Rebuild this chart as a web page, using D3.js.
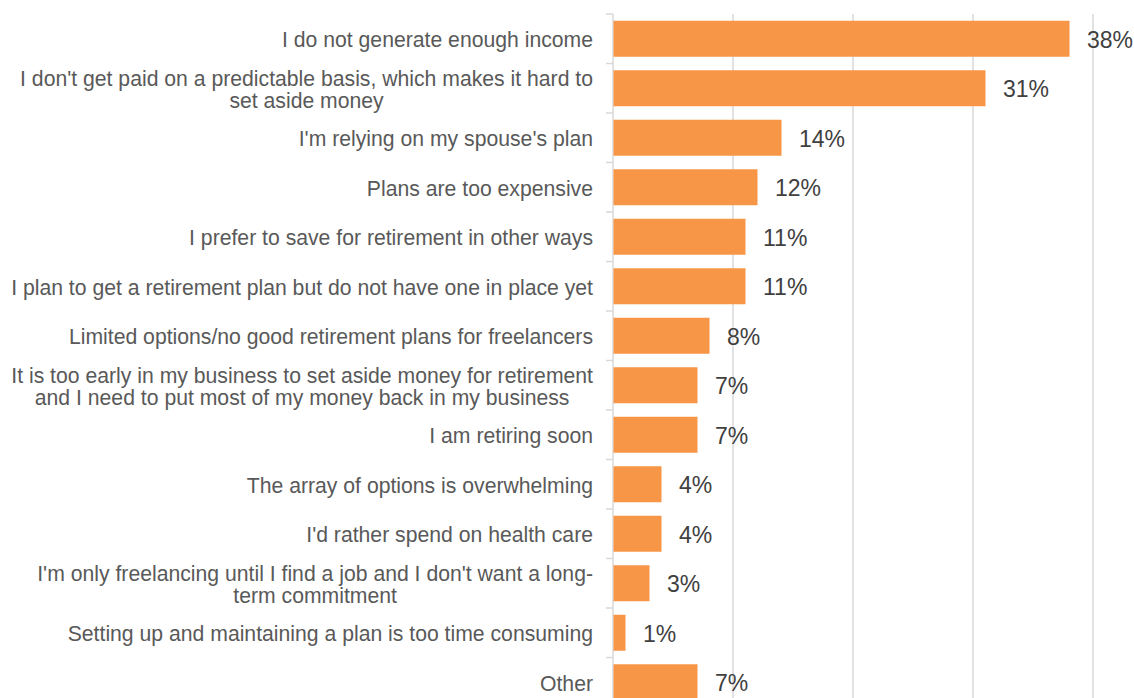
<!DOCTYPE html>
<html>
<head>
<meta charset="utf-8">
<script src="https://cdn.jsdelivr.net/npm/d3@7/dist/d3.min.js"></script>
<style>
  html, body { margin: 0; padding: 0; background: #ffffff; }
  svg { display: block; }
</style>
</head>
<body>
<svg id="chart" width="1134" height="698"></svg>
<script>
// Reasons freelancers give for not having a retirement plan (% of respondents)
const categories = [
  "I do not generate enough income",
  "I don't get paid on a predictable basis, which makes it hard to\nset aside money",
  "I'm relying on my spouse's plan",
  "Plans are too expensive",
  "I prefer to save for retirement in other ways",
  "I plan to get a retirement plan but do not have one in place yet",
  "Limited options/no good retirement plans for freelancers",
  "It is too early in my business to set aside money for retirement\nand I need to put most of my money back in my business",
  "I am retiring soon",
  "The array of options is overwhelming",
  "I'd rather spend on health care",
  "I'm only freelancing until I find a job and I don't want a long-\nterm commitment",
  "Setting up and maintaining a plan is too time consuming",
  "Other"
];
const values = [38, 31, 14, 12, 11, 11, 8, 7, 7, 4, 4, 3, 1, 7];
const gridTicks = [10, 20, 30, 40];

const svg = d3.select("#chart");
const fontFamily = "'Liberation Sans', Arial, sans-serif";
const labelColor = "#595959";
const valueColor = "#404040";
const gridColor = "#d9d9d9";
const barColor = "#f79646";

const x0 = 613;
const x = d3.scaleLinear().domain([0, 40]).range([x0, 1093]);
const y = d3.scaleBand()
  .domain(categories)
  .range([14, 14 + 49.5 * categories.length])
  .paddingInner(0.2727)
  .paddingOuter(0.13635);

// vertical gridlines
svg.append("g")
  .selectAll("line")
  .data(gridTicks)
  .join("line")
  .attr("x1", d => x(d)).attr("x2", d => x(d))
  .attr("y1", 14).attr("y2", 698)
  .attr("stroke", gridColor)
  .attr("stroke-width", 1.5);

// category axis line and tick marks at band boundaries
const step = y.step();
const bandEdges = categories.map(c => y(c) - step * y.paddingInner() / 2);
const axisG = svg.append("g");
axisG.append("line")
  .attr("x1", x0).attr("x2", x0)
  .attr("y1", 14).attr("y2", 698)
  .attr("stroke", gridColor)
  .attr("stroke-width", 1.5);
axisG.selectAll("line.tick")
  .data(bandEdges)
  .join("line")
  .attr("class", "tick")
  .attr("x1", x0 - 7).attr("x2", x0)
  .attr("y1", d => d).attr("y2", d => d)
  .attr("stroke", gridColor)
  .attr("stroke-width", 1.5);

// bars
svg.append("g")
  .selectAll("rect")
  .data(categories)
  .join("rect")
  .attr("x", x(0) + 0.5)
  .attr("y", d => y(d))
  .attr("width", (d, i) => x(values[i]) - x(0))
  .attr("height", y.bandwidth())
  .attr("fill", barColor);

// value labels
svg.append("g")
  .selectAll("text")
  .data(categories)
  .join("text")
  .attr("x", (d, i) => x(values[i]) + 18)
  .attr("y", d => y(d) + y.bandwidth() / 2 + 9.2)
  .attr("font-family", fontFamily)
  .attr("font-size", 23)
  .attr("fill", valueColor)
  .text((d, i) => values[i] + "%");

// category labels: multi-line blocks are centred on themselves and right-aligned to the axis
const labelRight = 593;
const lineHeight = 22.5;
const labelG = svg.append("g");
categories.forEach(c => {
  const lines = c.split("\n");
  const cy = y(c) + y.bandwidth() / 2;
  const firstBaseline = cy + 8.5 - (lines.length - 1) * lineHeight / 2;
  const texts = lines.map((ln, i) =>
    labelG.append("text")
      .attr("font-family", fontFamily)
      .attr("font-size", 21.2)
      .attr("fill", labelColor)
      .attr("y", firstBaseline + i * lineHeight)
      .text(ln)
  );
  const w = d3.max(texts, t => t.node().getComputedTextLength());
  texts.forEach(t => t.attr("text-anchor", "middle").attr("x", labelRight - w / 2));
});
</script>
</body>
</html>
